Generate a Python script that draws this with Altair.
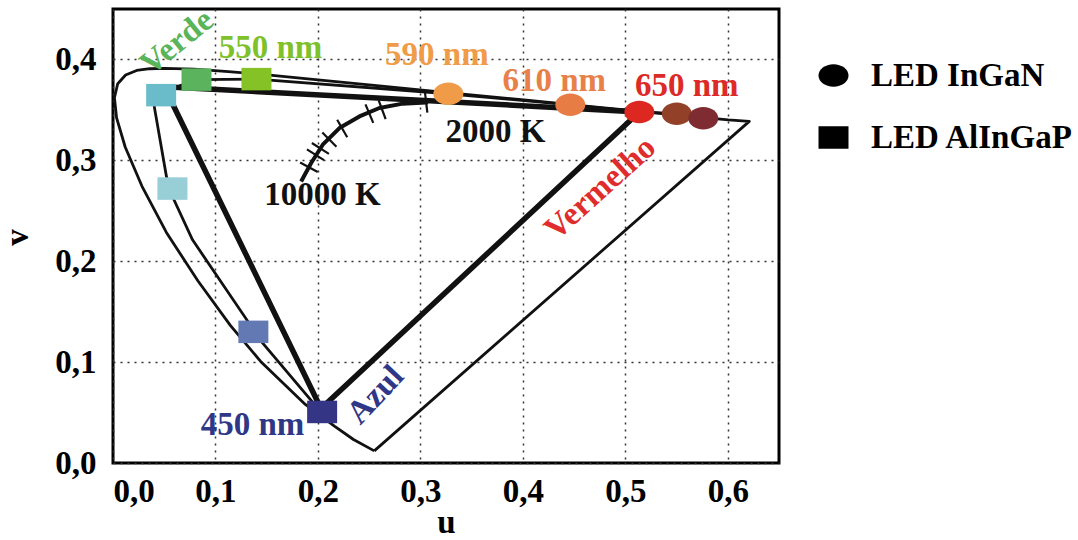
import altair as alt
import pandas as pd

# ---------------- data ----------------
# spectral locus (CIE 1960 u,v) closed by the purple line
loc_u = [0.255, 0.2347, 0.2161, 0.1877, 0.1441, 0.1147, 0.0828, 0.0521, 0.0282, 0.0119,
         0.0035, 0.0014, 0.0046, 0.0123, 0.0231, 0.0360, 0.0501, 0.0792, 0.1127, 0.1531,
         0.2026, 0.2623, 0.3315, 0.4035, 0.4692, 0.5203, 0.5565, 0.6005, 0.621, 0.255]
loc_v = [0.012, 0.0233, 0.0366, 0.0581, 0.1007, 0.1362, 0.1806, 0.2285, 0.2745, 0.3132,
         0.3420, 0.3621, 0.3759, 0.3846, 0.3891, 0.3908, 0.3912, 0.3904, 0.3880, 0.3844,
         0.3796, 0.3736, 0.3667, 0.3596, 0.3530, 0.3479, 0.3443, 0.3400, 0.3386, 0.012]

# LED locus
led_u = [0.2041, 0.1946, 0.1459, 0.0776, 0.0595, 0.0522, 0.0405, 0.039, 0.0815, 0.140,
         0.3273, 0.4463, 0.5137, 0.5502, 0.5761]
led_v = [0.0506, 0.0605, 0.119, 0.2212, 0.2609, 0.2837, 0.352, 0.364, 0.380, 0.3805,
         0.366, 0.355, 0.348, 0.3462, 0.3418]

# RGB gamut triangle (Verde, Azul, Vermelho)
tri_u = [0.050, 0.203, 0.5137, 0.050]
tri_v = [0.373, 0.054, 0.348, 0.373]

# Planckian locus 10000 K -> 2000 K
pl_u = [0.1836, 0.1934, 0.2047, 0.2210, 0.2405, 0.2600, 0.2827, 0.3056, 0.3075]
pl_v = [0.2791, 0.2973, 0.3155, 0.3320, 0.3435, 0.3519, 0.3562, 0.3574, 0.3575]

# isotemperature ticks
tk_u1 = [0.1826, 0.1893, 0.1941, 0.2043, 0.2188, 0.2464, 0.2593, 0.3044]
tk_v1 = [0.2979, 0.3109, 0.3172, 0.3275, 0.3402, 0.3554, 0.3595, 0.3681]
tk_u2 = [0.1998, 0.2059, 0.2107, 0.2181, 0.2286, 0.2540, 0.2661, 0.3068]
tk_v2 = [0.2884, 0.3002, 0.3064, 0.3134, 0.3229, 0.3371, 0.3409, 0.3472]

# LED points
sym_u = [0.2041, 0.137, 0.058, 0.047, 0.0815, 0.140, 0.3273, 0.4463, 0.5137, 0.5502, 0.5761]
sym_v = [0.0506, 0.130, 0.272, 0.3646, 0.380, 0.3805, 0.366, 0.355, 0.348, 0.3462, 0.3418]
sym_type = ["LED AlInGaP"] * 6 + ["LED InGaN"] * 5
sym_col = ["#343585", "#6379b4", "#98ced5", "#6bbccb", "#5bb35d", "#84c226",
           "#f09b48", "#e87c45", "#dc2820", "#934029", "#7e2c31"]

# annotations
txt = ["Verde", "550 nm", "590 nm", "610 nm", "650 nm", "2000 K", "10000 K", "450 nm", "Azul", "Vermelho"]
txt_u = [0.0624, 0.1537, 0.3161, 0.4307, 0.5600, 0.3732, 0.2044, 0.1361, 0.2561, 0.4756]
txt_v = [0.4172, 0.4117, 0.4048, 0.3790, 0.3735, 0.3279, 0.2654, 0.0377, 0.0675, 0.2723]
txt_col = ["#5ab45a", "#7fc12b", "#f09b48", "#e8804a", "#dd2a27", "#111111", "#111111",
           "#2f3787", "#2f3787", "#df2d2d"]
txt_ang = [321, 0, 0, 0, 0, 0, 0, 0, 313, 318]

x_ticks = [0.0, 0.1, 0.2, 0.3, 0.4, 0.5, 0.6]
y_ticks = [0.0, 0.1, 0.2, 0.3, 0.4]

FONT = "Liberation Serif"
ELLIPSE = "M-1,0A1,0.75,0,1,1,1,0A1,0.75,0,1,1,-1,0Z"
RECT = "M-1,-0.75L1,-0.75L1,0.75L-1,0.75Z"

# ---------------- tables ----------------
loc = pd.DataFrame({"u": loc_u, "v": loc_v, "i": range(len(loc_u))})
led = pd.DataFrame({"u": led_u, "v": led_v, "i": range(len(led_u))})
tri = pd.DataFrame({"u": tri_u, "v": tri_v, "i": range(len(tri_u))})
pl = pd.DataFrame({"u": pl_u, "v": pl_v, "i": range(len(pl_u))})
tk = pd.DataFrame({"u": tk_u1, "v": tk_v1, "u2": tk_u2, "v2": tk_v2})
sym = pd.DataFrame({"u": sym_u, "v": sym_v, "type": sym_type, "col": sym_col})
ann = pd.DataFrame({"t": txt, "u": txt_u, "v": txt_v, "col": txt_col, "ang": txt_ang})

lab_expr = "replace(format(datum.value, '.1f'), '.', ',')"
X = alt.X("u:Q", scale=alt.Scale(domain=[0, 0.65], nice=False, zero=False),
          axis=alt.Axis(values=x_ticks, title="u", labelExpr=lab_expr, labelPadding=12,
                        titlePadding=0, titleY=69, titleBaseline="alphabetic"))
Y = alt.Y("v:Q", scale=alt.Scale(domain=[0, 0.45], nice=False, zero=False),
          axis=alt.Axis(values=y_ticks, title="v", labelExpr=lab_expr, labelPadding=17,
                        titleX=-96, titleY=228, titleAlign="center", titleBaseline="middle"))


def line(df, w):
    return alt.Chart(df).mark_line(color="#111111", strokeWidth=w, strokeJoin="round").encode(
        x=X, y=Y, order=alt.Order("i:Q"))


l_loc = line(loc, 2.8)
l_led = line(led, 2.8)
l_tri = line(tri, 5.5)
l_pl = line(pl, 4)
l_tk = alt.Chart(tk).mark_rule(color="#111111", strokeWidth=2.2).encode(
    x=X, y=Y, x2="u2:Q", y2="v2:Q")

pts = alt.Chart(sym).mark_point(filled=True, opacity=1, strokeWidth=0).encode(
    x=X, y=Y,
    color=alt.Color("col:N", scale=None),
    size=alt.value(900),
    shape=alt.Shape("type:N",
                    scale=alt.Scale(domain=["LED InGaN", "LED AlInGaP"], range=[ELLIPSE, RECT]),
                    legend=alt.Legend(title=None, orient="none", legendX=704, legendY=50,
                                      labelFont=FONT, labelFontWeight="bold", labelFontSize=33,
                                      labelColor="black", labelLimit=400, symbolSize=900,
                                      symbolFillColor="black", symbolStrokeWidth=0,
                                      symbolOpacity=1, rowPadding=28, labelOffset=21, padding=0)),
)

texts = alt.Chart(ann).mark_text(font=FONT, fontWeight="bold", fontSize=33,
                                 align="center", baseline="middle").encode(
    x=X, y=Y, text="t:N",
    color=alt.Color("col:N", scale=None),
    angle=alt.Angle("ang:Q", scale=None),
)

chart = alt.layer(l_loc, l_led, l_pl, l_tk, l_tri, pts, texts).properties(
    width=666, height=454, autosize="none",
    padding={"left": 113, "top": 9, "right": 299, "bottom": 77},
).configure_view(stroke="black", strokeWidth=3).configure_axis(
    grid=True, gridDash=[2, 5], gridColor="#333333", gridWidth=1.5, domain=False, ticks=False,
    labelFont=FONT, labelFontWeight="bold", labelFontSize=33, labelColor="black",
    titleFont=FONT, titleFontWeight="bold", titleFontSize=33, titleColor="black",
)

chart.save("out.html", embed_options={"renderer": "svg", "actions": False})
